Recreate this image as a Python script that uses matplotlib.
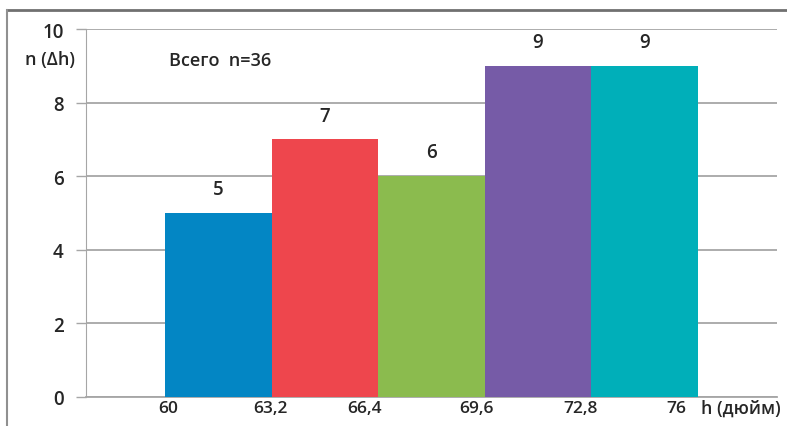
import numpy as np
import matplotlib
matplotlib.use("Agg")
import matplotlib.pyplot as plt
from matplotlib.lines import Line2D
from matplotlib.transforms import ScaledTranslation

# интервалы роста и число людей в каждом
edges = [60, 63.2, 66.4, 69.6, 72.8, 76]
edge_labels = ["60", "63,2", "66,4", "69,6", "72,8", "76"]
counts = [5, 7, 6, 9, 9]
colors = ["#0386C4", "#EE464D", "#8BBB4E", "#765BA7", "#00AFB9"]

plt.rcParams['font.family'] = ['Open Sans', 'DejaVu Sans']
plt.rcParams['font.weight'] = 'semibold'
txt = "#262626"

fig = plt.figure(figsize=(7.87, 4.27), dpi=100)
ax = fig.add_axes([86 / 787, 1 - 398 / 427, 691 / 787, 368 / 427])

w = edges[1] - edges[0]
left = np.array(edges[:-1])
ax.bar(left, counts, width=w, align="edge", color=colors, zorder=3)

for x, c in zip(left, counts):
    ax.annotate(str(c), (x + w / 2, c), xytext=(0, 10), textcoords="offset points",
                ha="center", va="bottom", fontsize=13.5, color=txt)

ax.set_xlim(57.62, 78.38)
ax.set_ylim(0, 10)
ax.set_yticks(range(0, 11, 2))
ax.tick_params(axis="y", length=7, width=1, color="#A6A6A6", pad=9, labelsize=13.5, labelcolor=txt)
ax.yaxis.grid(True, color="#A6A6A6", linewidth=1.3, zorder=0)
ax.set_xticks(edges)
ax.set_xticklabels(edge_labels, fontsize=12.5, color=txt)
ax.tick_params(axis="x", length=0, pad=2)
# подписи границ сдвинуты вручную (в пикселях), как в исходной диаграмме
nudge = [3, -1, -14, -8, -11, -21]
for lab, dx in zip(ax.get_xticklabels(), nudge):
    lab.set_transform(lab.get_transform() + ScaledTranslation(dx / 100, 0, fig.dpi_scale_trans))

for s in ["top", "right"]:
    ax.spines[s].set_visible(False)
ax.spines["left"].set_color("#A6A6A6")
ax.spines["bottom"].set_color("#A6A6A6")
ax.spines["bottom"].set_linewidth(1.3)

fig.text(50 / 787, 1 - 60 / 427, "n (Δh)", ha="center", va="center", fontsize=13, color=txt)
fig.text(169 / 787, 1 - 61 / 427, "Всего  n=36", ha="left", va="center", fontsize=13, color=txt)
fig.text(741 / 787, 1 - 409 / 427, "h (дюйм)", ha="center", va="center", fontsize=12.8, color=txt)

# рамка слева и сверху
fig.add_artist(Line2D([7 / 787, 1], [1 - 10.5 / 427] * 2, color="#707070", linewidth=2))
fig.add_artist(Line2D([7 / 787] * 2, [0, 1 - 10.5 / 427], color="#909090", linewidth=1.5))

fig.savefig("out.png", dpi=100)
